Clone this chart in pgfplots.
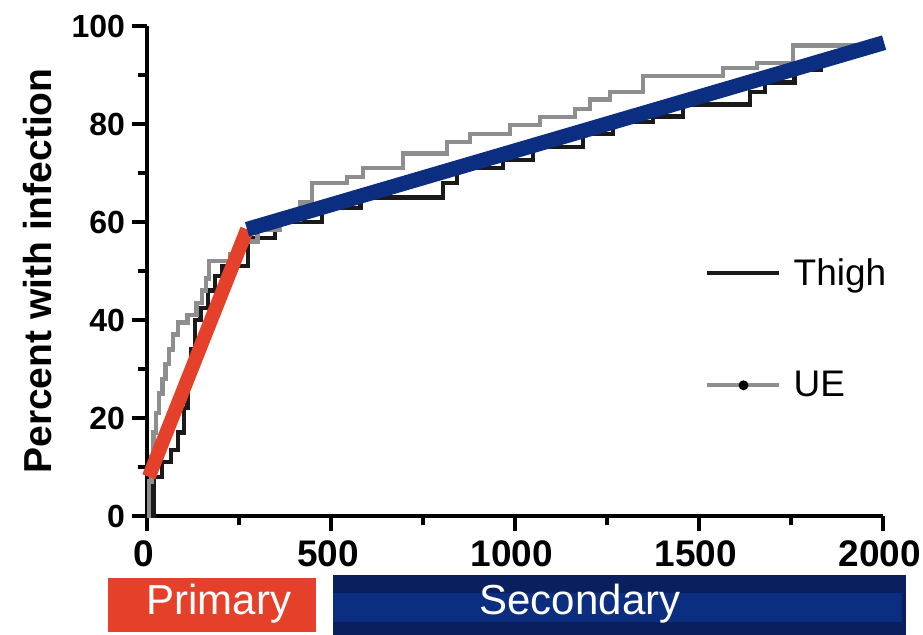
\documentclass[border=0pt]{standalone}
\usepackage{pgfplots}
\pgfplotsset{compat=1.18}
\usepackage{fontspec}
\setmainfont{Liberation Sans}

\definecolor{thigh}{HTML}{1A1A1A}
\definecolor{ue}{HTML}{8E8E8E}
\definecolor{prim}{HTML}{E5412A}
\definecolor{sec}{HTML}{0B2E80}
\definecolor{secdark}{HTML}{0A1F5E}

\begin{document}
\begin{tikzpicture}[x=1pt,y=1pt]
\useasboundingbox (-73.5,-59.5) rectangle (388,258);
\begin{axis}[
  at={(0,0)}, anchor=south west,
  scale only axis, width=368pt, height=245pt,
  xmin=0, xmax=2000, ymin=0, ymax=100,
  axis lines=left, axis line style={-, line width=2pt},
  clip=false,
  xtick={0,500,...,2000}, ytick={0,20,...,100},
  minor xtick={250,750,...,1750}, minor ytick={10,30,...,90},
  tick align=outside, major tick length=7.5pt, minor tick length=4.5pt,
  tick style={black, line width=2pt},
  yticklabel style={font=\fontsize{16}{16}\selectfont\bfseries},
  xticklabel style={font=\fontsize{18.5}{18.5}\selectfont\bfseries, yshift=-1.5pt, xshift=-1.5pt},
  /pgf/number format/assume math mode=true,
  /pgf/number format/1000 sep={},
  ylabel={Percent with infection},
  ylabel style={font=\fontsize{19.5}{19.5}\selectfont\bfseries, yshift=3pt},
  legend style={draw=none, fill=none, at={(axis cs:1516,53.5)}, anchor=north west,
    font=\fontsize{18.5}{18.5}\selectfont, row sep=37.5pt, inner sep=0pt,
    column sep=4pt, cells={anchor=west}},
  legend cell align=left,
]
% Thigh
\addplot[thigh, line width=2.2pt, const plot,
  legend image code/.code={\draw[thigh,line width=2.2pt] (0pt,0pt)--(36pt,0pt);}]
coordinates {
(0,0)(18,0)(18,8)(40,8)(40,11)(65,11)(65,13.5)(85,13.5)(85,17)(100,17)(100,22)
(110,22)(110,28)(120,28)(120,34)(130,34)(130,40)(145,40)(145,42.5)(165,42.5)
(165,46)(185,46)(185,49)(205,49)(205,51)(275,51)(275,56.7)(348,56.7)(348,60)
(475,60)(475,62.8)(580,62.8)(580,65)(804,65)(804,68)(842,68)(842,71)(967,71)
(967,72.6)(1049,72.6)(1049,75.3)(1185,75.3)(1185,78)(1266,78)(1266,80.4)
(1375,80.4)(1375,81.5)(1457,81.5)(1457,84)(1639,84)(1639,86.5)(1680,86.5)
(1680,88.5)(1760,88.5)(1760,91)(1830,91)(1830,93.5)(1900,93.5)(1900,96)(2000,96)
};
\addlegendentry{Thigh}
% UE
\addplot[ue, line width=2.2pt,
  legend image code/.code={\draw[ue,line width=2.2pt] (0pt,0pt)--(36pt,0pt);
    \fill[black] (18pt,0pt) circle (1.3pt);}]
coordinates {
(0,0)(6,0)(6,7)(12,7)(12,12)(18,12)(18,17)(25,17)(25,21)(33,21)(33,25)(42,25)
(42,28)(50,28)(50,31)(60,31)(60,34)(70,34)(70,37)(85,37)(85,39.5)(110,39.5)
(110,41)(135,41)(135,43.5)(150,43.5)(150,46)(160,46)(160,48.5)(168,48.5)
(168,52)(225,52)(225,53.5)(255,53.5)(255,56)(300,56)(300,58.5)(360,58.5)
(360,60.5)(416,60.5)(416,64)(448,64)(448,68)(543,68)(543,69.2)(587,69.2)
(587,71)(696,71)(696,74)(815,74)(815,76.3)(878,76.3)(878,78)(986,78)
(986,79.8)(1068,79.8)(1068,81.4)(1163,81.4)(1163,83)(1204,83)(1204,85)
(1258,85)(1258,86.5)(1348,86.5)(1348,89.8)(1565,89.8)(1565,91.4)(1658,91.4)
(1658,92.5)(1755,92.5)(1755,96)(1992,96)
};
\addlegendentry{UE}
% primary phase fit
\addplot[prim, line width=7pt, forget plot] coordinates {(5,8)(272,58.5)};
% secondary phase fit
\addplot[sec, line width=7.5pt, forget plot] coordinates {(272,58.5)(2003,96.6)};
\end{axis}
% phase bars below the time axis
\fill[prim] (-19.5,-58) rectangle (84.5,-31);
\node[white, font=\fontsize{21}{21}\selectfont] at (36,-44) {Primary};
\fill[secdark] (93,-59.5) rectangle (379.5,-29.5);
\fill[sec] (93,-53) rectangle (377.5,-38.5);
\node[white, font=\fontsize{21}{21}\selectfont] at (216.5,-44) {Secondary};
\end{tikzpicture}
\end{document}
